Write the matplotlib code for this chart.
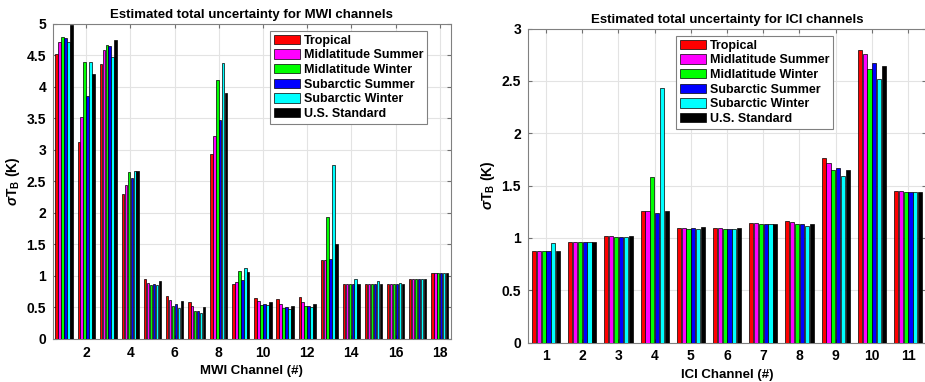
import matplotlib
matplotlib.use('Agg')
import matplotlib.pyplot as plt
import numpy as np

plt.rcParams['font.family'] = ['Liberation Sans', 'DejaVu Sans']
plt.rcParams['font.weight'] = 'bold'
plt.rcParams['mathtext.fontset'] = 'custom'
plt.rcParams['mathtext.rm'] = 'Liberation Sans:bold'
plt.rcParams['mathtext.it'] = 'Liberation Sans:italic'
plt.rcParams['mathtext.bf'] = 'Liberation Sans:bold'

profiles = ['Tropical', 'Midlatitude Summer', 'Midlatitude Winter',
            'Subarctic Summer', 'Subarctic Winter', 'U.S. Standard']
colors = ['#ff0000', '#ff00ff', '#00ff00', '#0000ff', '#00ffff', '#000000']

# MWI channels 1-18, one list per atmosphere profile
mwi_channels = list(range(1, 19))
mwi_trop = [4.53, 3.12, 4.37, 2.30, 0.95, 0.69, 0.59, 2.94, 0.87, 0.65, 0.63, 0.66, 1.25, 0.88, 0.88, 0.88, 0.96, 1.05]
mwi_mls  = [4.71, 3.53, 4.58, 2.44, 0.89, 0.62, 0.52, 3.22, 0.91, 0.60, 0.55, 0.58, 1.25, 0.88, 0.88, 0.88, 0.96, 1.04]
mwi_mlw  = [4.79, 4.40, 4.67, 2.65, 0.86, 0.53, 0.45, 4.11, 1.08, 0.54, 0.49, 0.53, 1.94, 0.88, 0.88, 0.88, 0.96, 1.04]
mwi_sas  = [4.78, 3.86, 4.65, 2.56, 0.88, 0.56, 0.45, 3.48, 0.94, 0.56, 0.51, 0.53, 1.27, 0.88, 0.88, 0.88, 0.96, 1.04]
mwi_saw  = [4.71, 4.40, 4.48, 2.67, 0.86, 0.49, 0.41, 4.38, 1.12, 0.54, 0.47, 0.51, 2.76, 0.96, 0.92, 0.89, 0.96, 1.04]
mwi_us   = [4.98, 4.21, 4.75, 2.67, 0.92, 0.61, 0.51, 3.90, 1.06, 0.59, 0.52, 0.55, 1.50, 0.88, 0.88, 0.88, 0.96, 1.04]

# ICI channels 1-11
ici_channels = list(range(1, 12))
ici_trop = [0.876, 0.965, 1.016, 1.257, 1.095, 1.092, 1.143, 1.165, 1.76, 2.80, 1.448]
ici_mls  = [0.876, 0.965, 1.016, 1.257, 1.095, 1.092, 1.143, 1.152, 1.72, 2.757, 1.444]
ici_mlw  = [0.873, 0.960, 1.010, 1.580, 1.086, 1.089, 1.133, 1.130, 1.646, 2.61, 1.435]
ici_sas  = [0.876, 0.960, 1.010, 1.240, 1.095, 1.086, 1.137, 1.133, 1.665, 2.674, 1.435]
ici_saw  = [0.952, 0.960, 1.010, 2.430, 1.086, 1.086, 1.133, 1.117, 1.59, 2.516, 1.435]
ici_us   = [0.876, 0.965, 1.016, 1.255, 1.105, 1.092, 1.137, 1.133, 1.652, 2.643, 1.435]

mwi_data = [mwi_trop, mwi_mls, mwi_mlw, mwi_sas, mwi_saw, mwi_us]
ici_data = [ici_trop, ici_mls, ici_mlw, ici_sas, ici_saw, ici_us]


def grouped(ax, chans, data, xticks, ymax, title, xlabel, leg_anchor):
    x = np.array(chans)
    step = 0.8 / len(data)
    for i, vals in enumerate(data):
        ax.bar(x + (i - 2.5) * step, vals, width=step * 0.85, color=colors[i],
               edgecolor='black', linewidth=0.5, label=profiles[i], zorder=3)
    ax.set_xlim(0.5, len(chans) + 0.5)
    ax.set_ylim(0, ymax)
    ax.set_xticks(xticks)
    yt = np.arange(0, ymax + 0.01, 0.5)
    ax.set_yticks(yt)
    ax.set_yticklabels(['%g' % v for v in yt])
    ax.tick_params(direction='in', top=True, right=True, length=3,
                   color='#707070', labelsize=10, pad=5)
    for s in ax.spines.values():
        s.set_color('#808080')
        s.set_linewidth(0.8)
    ax.grid(True, color='#e3e3e3', linewidth=0.8, zorder=0)
    ax.set_axisbelow(True)
    ax.set_title(title, fontsize=9.5, fontweight='bold', pad=4)
    ax.set_xlabel(xlabel, fontsize=9.5, fontweight='bold', labelpad=4)
    ax.set_ylabel(r'$\sigma$T$_\mathbf{B}$ (K)', fontsize=10, fontweight='bold', labelpad=3)
    leg = ax.legend(loc='upper right', bbox_to_anchor=leg_anchor, fontsize=9,
                    handlelength=2.1, handleheight=0.8, labelspacing=0.2,
                    handletextpad=0.3, borderpad=0.3, borderaxespad=0,
                    fancybox=False, framealpha=1, edgecolor='#808080')
    leg.get_frame().set_linewidth(0.8)


fig = plt.figure(figsize=(9.25, 3.82), dpi=100)
ax1 = fig.add_axes([0.0573, 0.1126, 0.430, 0.8246])
ax2 = fig.add_axes([0.5708, 0.1034, 0.4305, 0.8215])

grouped(ax1, mwi_channels, mwi_data, list(range(2, 19, 2)), 5,
        'Estimated total uncertainty for MWI channels', 'MWI Channel (#)', (0.94, 0.978))
grouped(ax2, ici_channels, ici_data, ici_channels, 3,
        'Estimated total uncertainty for ICI channels', 'ICI Channel (#)', (0.766, 0.977))

fig.savefig('out.png', dpi=100)
